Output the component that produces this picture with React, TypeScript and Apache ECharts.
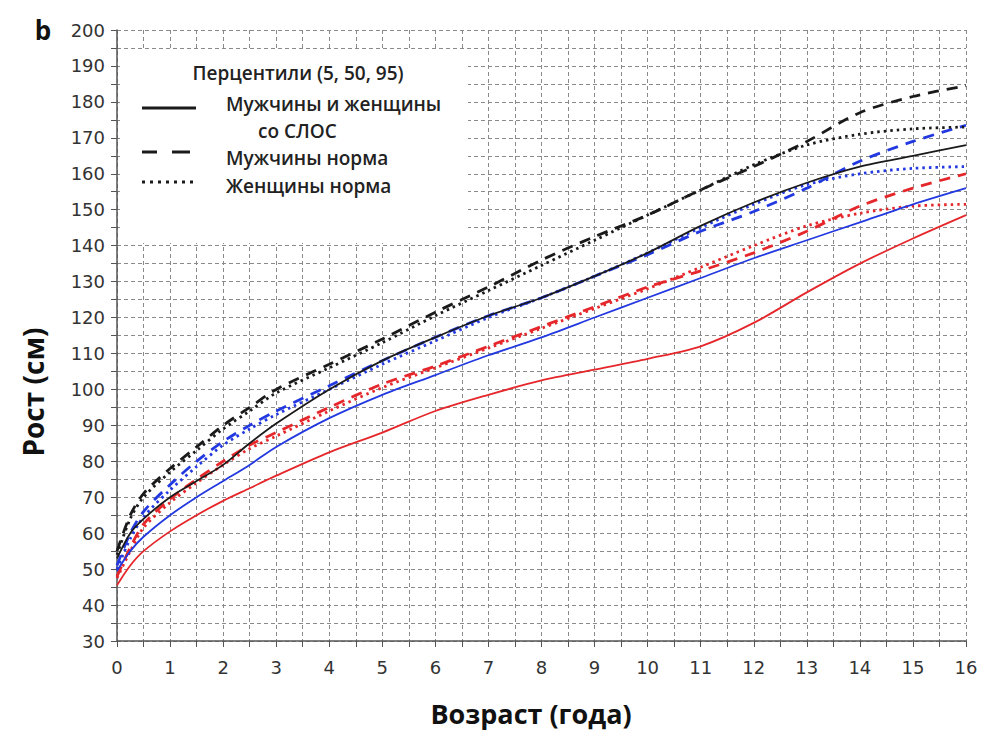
import React, { useEffect, useRef } from "react";
import * as echarts from "echarts";

const ages = [0, 0.25, 0.5, 1, 1.5, 2, 2.5, 3, 4, 5, 6, 7, 8, 9, 10, 11, 12, 13, 14, 15, 16];

// SLOS patients (solid)
const slos95 = [53, 60, 64, 70, 74.5, 79, 85, 90.5, 100, 108, 114.5, 120.5, 125.5, 131.5, 138, 145.5, 152, 157.5, 162, 165, 168];
const slos50 = [49.5, 55, 59, 65, 70, 74.5, 79, 84, 92, 98.5, 104, 109.5, 114.5, 120, 125.5, 131, 136.5, 141.5, 146.5, 151.5, 156];
const slos5 = [45.5, 51, 55, 60.5, 65, 69, 72.5, 76, 82.5, 88, 94, 98.5, 102.5, 105.5, 108.5, 112, 118.5, 127, 135, 142, 148.5];

// Boys norm (dashed)
const boys95 = [55, 65, 71, 78, 84, 90, 95, 100, 107, 114, 121.5, 128.5, 136, 142.5, 148.5, 155.5, 162, 169, 177, 181.5, 184.5];
const boys50 = [51, 60, 66, 73.5, 80, 85.5, 90, 94, 101, 108, 114.5, 120.5, 125.5, 131.5, 137.5, 144, 149.5, 156, 163.5, 169, 173.5];
const boys5 = [48, 56, 62.5, 69.5, 75, 80, 84.5, 88, 95, 101.5, 106.5, 112, 117.5, 123, 128.5, 133, 138, 144, 151, 156, 160];

// Girls norm (dotted)
const girls95 = [54, 64, 70, 77, 83, 89, 94, 99, 106, 113, 120.5, 127.5, 134.5, 141.5, 148.5, 155.5, 162.5, 168, 171, 172.5, 173];
const girls50 = [50, 58.5, 64.5, 72, 78.5, 84.5, 89, 93, 100, 107, 113.5, 120, 125.5, 131.5, 138, 145, 151.5, 157, 160, 161.5, 162];
const girls5 = [47.5, 55, 61.5, 68.5, 74, 79, 83.5, 87, 94, 100.5, 106, 111.5, 117, 122.5, 128, 134, 140, 145.5, 149, 151, 151.5];

const legendTitle = "Перцентили (5, 50, 95)";
const legendItems = ["Мужчины и женщины", "со СЛОС", "Мужчины норма", "Женщины норма"];
const xAxisTitle = "Возраст (года)";
const yAxisTitle = "Рост (см)";

const BLACK = "#1a1a1a";
const BLUE = "#2238e0";
const RED = "#e5262a";

export default function App() {
  const ref = useRef<HTMLDivElement>(null);

  useEffect(() => {
    if (!ref.current) return;
    const chart = echarts.init(ref.current, undefined, { renderer: "svg" });

    const mk = (name: string, vals: number[], color: string, kind: "solid" | "dashed" | "dotted") => {
      const lineStyle: any = { color, width: kind === "solid" ? 1.8 : 2.8 };
      if (kind === "dashed") lineStyle.type = [11, 8];
      if (kind === "dotted") lineStyle.type = [2.5, 4];
      return {
        name,
        type: "line",
        data: ages.map((a, i) => [a, vals[i]]),
        smooth: 0.3,
        showSymbol: false,
        symbol: "none",
        lineStyle,
        z: kind === "solid" ? 3 : 2,
      };
    };

    const fontLegend = "'Open Sans', 'Noto Sans', sans-serif";
    const lf = `600 19px ${fontLegend}`;

    chart.setOption({
      animation: false,
      backgroundColor: "#ffffff",
      grid: { left: 117, right: 15, top: 30, bottom: 90, containLabel: false },
      xAxis: {
        type: "value",
        min: 0,
        max: 16,
        interval: 0.5,
        axisLine: { show: true, lineStyle: { color: "#555", width: 1.5 } },
        axisTick: { show: true, length: 6, lineStyle: { color: "#555" } },
        axisLabel: {
          margin: 17,
          color: "#333",
          fontSize: 18,
          fontFamily: "'DejaVu Sans', sans-serif",
          formatter: (v: number) => (Number.isInteger(v) ? String(v) : ""),
        },
        splitLine: { show: true, lineStyle: { color: "#8a8a8a", width: 1, type: [4, 3] } },
      },
      yAxis: {
        type: "value",
        min: 30,
        max: 200,
        interval: 5,
        axisLine: { show: true, lineStyle: { color: "#555", width: 1.5 } },
        axisTick: { show: true, length: 6, lineStyle: { color: "#555" } },
        axisLabel: {
          margin: 12,
          color: "#333",
          fontSize: 18,
          fontFamily: "'DejaVu Sans', sans-serif",
          formatter: (v: number) => (v % 10 === 0 ? String(v) : ""),
        },
        splitLine: { show: true, lineStyle: { color: "#8a8a8a", width: 1, type: [4, 3] } },
      },
      series: [
        mk("boys95", boys95, BLACK, "dashed"),
        mk("boys50", boys50, BLUE, "dashed"),
        mk("boys5", boys5, RED, "dashed"),
        mk("girls95", girls95, BLACK, "dotted"),
        mk("girls50", girls50, BLUE, "dotted"),
        mk("girls5", girls5, RED, "dotted"),
        mk("slos95", slos95, BLACK, "solid"),
        mk("slos50", slos50, BLUE, "solid"),
        mk("slos5", slos5, RED, "solid"),
      ],
      graphic: [
        { type: "rect", z: 100, shape: { x: 120, y: 50, width: 348, height: 193 }, style: { fill: "#ffffff" } },
        {
          type: "text", z: 101, x: 298, y: 73,
          style: { text: legendTitle, fill: "#222", font: lf, align: "center", verticalAlign: "middle" },
        },
        { type: "line", z: 101, shape: { x1: 142, y1: 108, x2: 196, y2: 108 }, style: { stroke: BLACK, lineWidth: 3 } },
        {
          type: "text", z: 101, x: 226, y: 104,
          style: { text: legendItems[0], fill: "#222", font: lf, align: "left", verticalAlign: "middle" },
        },
        {
          type: "text", z: 101, x: 258, y: 131,
          style: { text: legendItems[1], fill: "#222", font: lf, align: "left", verticalAlign: "middle" },
        },
        { type: "line", z: 101, shape: { x1: 142, y1: 152, x2: 157, y2: 152 }, style: { stroke: BLACK, lineWidth: 3 } },
        { type: "line", z: 101, shape: { x1: 172, y1: 152, x2: 190, y2: 152 }, style: { stroke: BLACK, lineWidth: 3 } },
        {
          type: "text", z: 101, x: 226, y: 158,
          style: { text: legendItems[2], fill: "#222", font: lf, align: "left", verticalAlign: "middle" },
        },
        { type: "line", z: 101, shape: { x1: 142, y1: 182, x2: 197, y2: 182 }, style: { stroke: BLACK, lineWidth: 3, lineDash: [3, 5] } },
        {
          type: "text", z: 101, x: 226, y: 186,
          style: { text: legendItems[3], fill: "#222", font: lf, align: "left", verticalAlign: "middle" },
        },
        {
          type: "text", z: 101, x: 531, y: 713,
          style: { text: xAxisTitle, fill: "#111", font: `bold 27px ${fontLegend}`, align: "center", verticalAlign: "middle" },
        },
        {
          type: "text", z: 101, x: 33, y: 392, rotation: Math.PI / 2,
          style: { text: yAxisTitle, fill: "#111", font: `bold 28px ${fontLegend}`, align: "center", verticalAlign: "middle" },
        },
        {
          type: "text", z: 101, x: 43, y: 30,
          style: { text: "b", fill: "#111", font: `bold 26px ${fontLegend}`, align: "center", verticalAlign: "middle" },
        },
      ],
    });

    return () => chart.dispose();
  }, []);

  return <div ref={ref} style={{ width: 981, height: 731, position: "absolute", left: 0, top: 0 }} />;
}
